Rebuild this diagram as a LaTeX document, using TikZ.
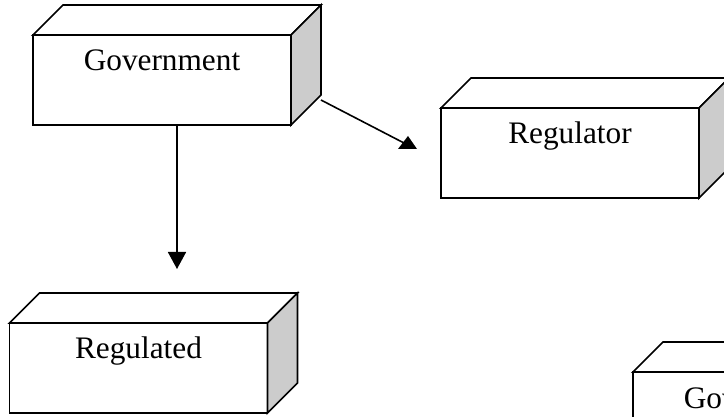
\documentclass[tikz,border=0pt]{standalone}
\usepackage{fontspec}
\setmainfont{Liberation Serif}
\usetikzlibrary{arrows.meta,calc}

\definecolor{sideshade}{HTML}{CCCCCC}

\tikzset{
  x=1pt, y=-1pt,
  face/.style={draw, line width=1.7pt, fill=white, minimum width=258pt,
    minimum height=90pt, inner sep=0pt, outer sep=0pt},
  edge/.style={draw, line width=1.7pt, line join=miter},
  boxlabel/.style={anchor=base, inner sep=0pt, font=\fontsize{31.3}{36}\selectfont},
  conn/.style={line width=1.6pt},
  headdown/.style={-{Triangle[length=17pt,width=18pt]}},
}

% a block drawn as a cuboid: front face node, top face and shaded side face
\newcommand{\cuboid}[3]{%
  \node[face] (#1) at (#2) {};
  \path[edge, fill=white] (#1.north west) -- ++(30,-30) -- ++(258,0)
    -- (#1.north east) -- cycle;
  \path[edge, fill=sideshade] (#1.north east) -- ++(30,-30) -- ++(0,90)
    -- (#1.south east) -- cycle;
  \node[boxlabel] (#1text) at ([yshift=-36pt]#1.north) {#3};
}

\begin{document}
\begin{tikzpicture}
  \useasboundingbox (0,0) rectangle (724,417);
  \clip (0,0) rectangle (724,417);

  \cuboid{gov}{162,80}{Government}
  \cuboid{reg}{570,153}{Regulator}
  \cuboid{rgd}{138.5,368}{Regulated}
  \cuboid{govb}{762,417}{Government}

  % downward link from Government
  \coordinate (downtip) at (177,269);
  \draw[conn, headdown] (gov.south -| downtip) -- (downtip);

  % slanted link from Government towards Regulator
  \coordinate (govside) at ($(gov.south east)+(30,-25)$);
  \coordinate (diagend) at (404,143);
  \draw[conn] (govside) -- (diagend);
  \fill (398,149) -- (417,149) -- (408,136) -- cycle;
\end{tikzpicture}
\end{document}
